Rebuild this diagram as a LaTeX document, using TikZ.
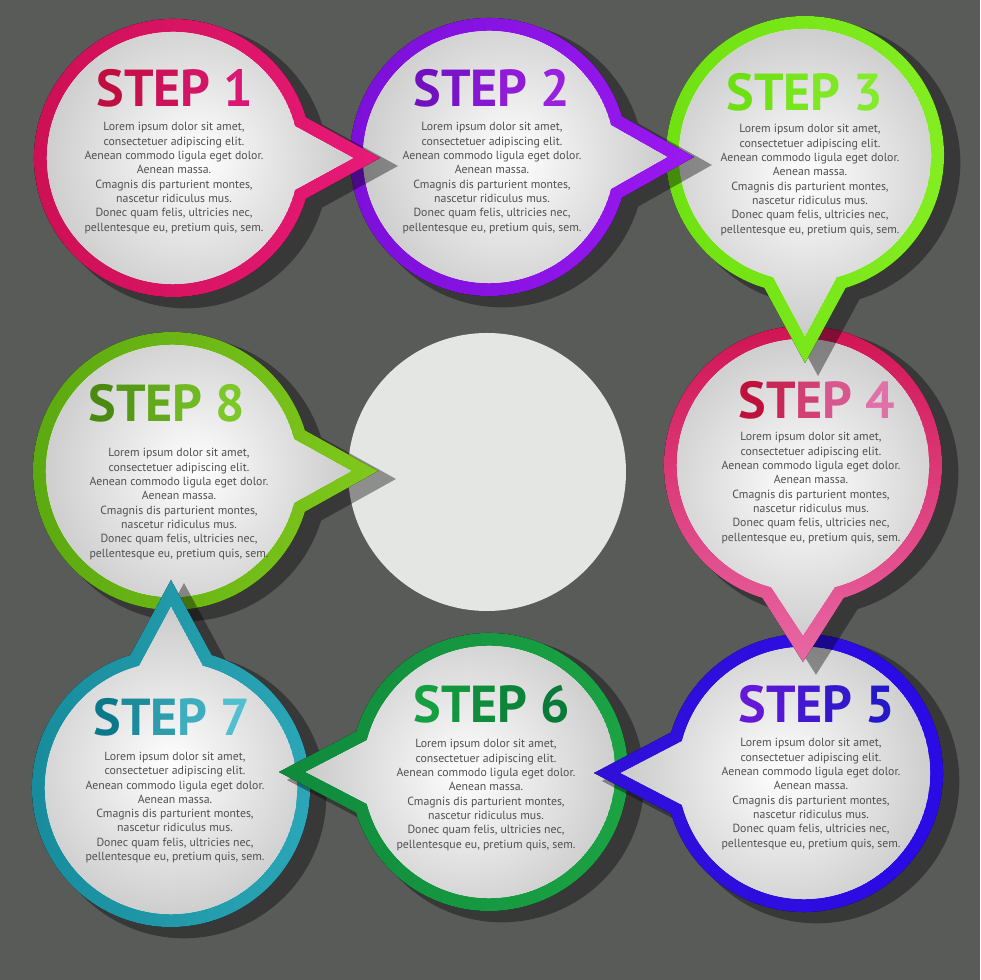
\documentclass[tikz,border=0pt]{standalone}
\usepackage{fontspec}
\setmainfont{PT Sans}
\usetikzlibrary{calc}
\definecolor{bg}{HTML}{595B59}
\definecolor{centerfill}{HTML}{E4E6E4}
\definecolor{bodytxt}{HTML}{505050}
\definecolor{edgegray}{HTML}{C4C4C4}
% ring colours
\definecolor{r1a}{HTML}{CC0F52}\definecolor{r1b}{HTML}{E81A78}
\definecolor{r2a}{HTML}{7A0FD8}\definecolor{r2b}{HTML}{9A18F0}
\definecolor{r3a}{HTML}{6EE010}\definecolor{r3b}{HTML}{84EE22}
\definecolor{r4a}{HTML}{D01050}\definecolor{r4b}{HTML}{E868A4}
\definecolor{r5a}{HTML}{3010D8}\definecolor{r5b}{HTML}{2A0AE6}
\definecolor{r6a}{HTML}{0F8A3C}\definecolor{r6b}{HTML}{1CA444}
\definecolor{r7a}{HTML}{168A9A}\definecolor{r7b}{HTML}{2CA8B8}
\definecolor{r8a}{HTML}{5AA810}\definecolor{r8b}{HTML}{80C81C}
% title colours
\definecolor{t1a}{HTML}{C00E40}\definecolor{t1b}{HTML}{D81872}
\definecolor{t2a}{HTML}{7010C0}\definecolor{t2b}{HTML}{9A20E0}
\definecolor{t3a}{HTML}{6CE010}\definecolor{t3b}{HTML}{84EA2C}
\definecolor{t4a}{HTML}{C0103C}\definecolor{t4b}{HTML}{E070A8}
\definecolor{t5a}{HTML}{6418D8}\definecolor{t5b}{HTML}{2418C8}
\definecolor{t6a}{HTML}{14A040}\definecolor{t6b}{HTML}{0A7A38}
\definecolor{t7a}{HTML}{0A7A8A}\definecolor{t7b}{HTML}{50C0D0}
\definecolor{t8a}{HTML}{4A8A10}\definecolor{t8b}{HTML}{7CC828}
\newcommand\bubpath[5]{($(#1)+({#2+#4}:{#3})$) arc[start angle={#2+#4}, end angle={#2+360-#4}, radius=#3pt] -- ($(#1)+({#2}:{#5})$) -- cycle}
\newcommand\drawbubble[4]{%
  \coordinate (#1s) at ($(#1)+(13,-8)$);
  \coordinate (#1g) at ($(#1)+({#2}:22)$);
  \fill[black,opacity=0.38] \bubpath{#1s}{#2}{142.3}{17}{#3*1.024};
  \fill[#4] \bubpath{#1}{#2}{139}{17}{#3};
  \begin{scope}
    \clip \bubpath{#1}{#2}{126}{14.6}{#3-27};
    \fill[white] \bubpath{#1}{#2}{126}{14.6}{#3-27};
    \shade[inner color=white, outer color=edgegray] (#1g) circle[radius=178pt];
  \end{scope}
}
\newcommand\steptitle[3]{{\color{#1}S}{\color{#1!75!#2}T}{\color{#1!50!#2}E}{\color{#1!25!#2}P} {\color{#2}#3}}
\newcommand\loremtext{Lorem ipsum dolor sit amet,\\consectetuer adipiscing elit.\\Aenean commodo ligula eget dolor.\\Aenean massa.\\Cmagnis dis parturient montes,\\nascetur ridiculus mus.\\Donec quam felis, ultricies nec,\\pellentesque eu, pretium quis, sem.}
\tikzset{
  titletext/.style={inner sep=0pt, font=\fontsize{52}{52}\selectfont\bfseries},
  bodytext/.style={inner sep=0pt, align=center, text=bodytxt, font=\fontsize{11.8}{14.3}\selectfont}
}
\begin{document}
\begin{tikzpicture}[x=1pt,y=1pt]
\fill[bg] (0,0) rectangle (980,980);
\useasboundingbox (0,0) rectangle (980,980);
% centre circle
\coordinate (c0) at (487,508);
\fill[centerfill] (c0) circle[radius=139pt];
% step 8
\coordinate (c8) at (172,509);
\drawbubble{c8}{0}{206}{left color=r8a,right color=r8b}
\node[titletext] (t8) at (167,577) {\steptitle{t8a}{t8b}{8}};
\node[bodytext] (b8) at (179,476) {\loremtext};
% step 7
\coordinate (c7) at (171,192);
\drawbubble{c7}{90}{208}{left color=r7a,right color=r7b}
\node[titletext] (t7) at (172,263) {\steptitle{t7a}{t7b}{7}};
\node[bodytext] (b7) at (175,172.5) {\loremtext};
% step 6
\coordinate (c6) at (489,208);
\drawbubble{c6}{180}{210}{left color=r6a,right color=r6b}
\node[titletext] (t6) at (492,276) {\steptitle{t6a}{t6b}{6}};
\node[bodytext] (b6) at (486,185) {\loremtext};
% step 5
\coordinate (c5) at (804,207);
\drawbubble{c5}{180}{210}{left color=r5a,right color=r5b}
\node[titletext] (t5) at (817,276) {\steptitle{t5a}{t5b}{5}};
\node[bodytext] (b5) at (811,186) {\loremtext};
% step 4
\coordinate (c4) at (803,515);
\drawbubble{c4}{-90}{197}{top color=r4a,bottom color=r4b}
\node[titletext] (t4) at (817,580) {\steptitle{t4a}{t4b}{4}};
\node[bodytext] (b4) at (811,492) {\loremtext};
% step 3
\coordinate (c3) at (805,825);
\drawbubble{c3}{-90}{208}{left color=r3a,right color=r3b}
\node[titletext] (t3) at (805,888) {\steptitle{t3a}{t3b}{3}};
\node[bodytext] (b3) at (810,800) {\loremtext};
% step 2
\coordinate (c2) at (489,823);
\drawbubble{c2}{0}{205}{left color=r2a,right color=r2b}
\node[titletext] (t2) at (492,892) {\steptitle{t2a}{t2b}{2}};
\node[bodytext] (b2) at (492,802) {\loremtext};
% step 1
\coordinate (c1) at (173,822);
\drawbubble{c1}{0}{207}{left color=r1a,right color=r1b}
\node[titletext] (t1) at (175,892) {\steptitle{t1a}{t1b}{1}};
\node[bodytext] (b1) at (174,802) {\loremtext};
\end{tikzpicture}
\end{document}
